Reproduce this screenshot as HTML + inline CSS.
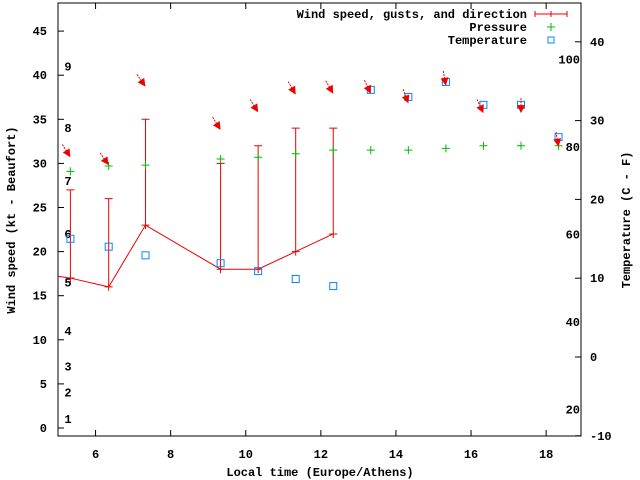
<!DOCTYPE html>
<html><head><meta charset="utf-8"><style>
body{margin:0;background:#fff}
svg{display:block}
text{font-family:"Liberation Mono",monospace;font-weight:bold;font-size:12px;fill:#000}
</style></head><body>
<svg id="chart" width="640" height="480" viewBox="0 0 640 480">
<rect x="58" y="3" width="523" height="433" fill="none" stroke="#000" stroke-width="1"/>
<g id="axes"></g>
<g id="series"></g>
<text x="15" y="220" transform="rotate(-90 15 220)" text-anchor="middle">Wind speed (kt - Beaufort)</text>
<text x="630" y="220" transform="rotate(-90 630 220)" text-anchor="middle">Temperature (C - F)</text>
<text x="320" y="476" text-anchor="middle">Local time (Europe/Athens)</text>
<g>
<text x="527" y="18" text-anchor="end">Wind speed, gusts, and direction</text>
<path d="M535 14H567M535 11V17M567 11V17M551 11V17" stroke="#e00" fill="none"/>
<text x="527" y="31" text-anchor="end">Pressure</text>
<path d="M547 27H555M551 23V31" stroke="#0b0"/>
<text x="527" y="44" text-anchor="end">Temperature</text>
<rect x="548" y="37" width="6" height="6" fill="none" stroke="#08f"/>
</g>
</svg>
<script>
const windTimes=[4.33,5.33,6.35,7.33,9.33,10.33,11.33,12.33];
const windSpeed=[17.6,17,16,23,18,18,20,22];
const gustTimes=[5.33,6.35,7.33,9.33,10.33,11.33,12.33];
const gustLow=[17,16,23,18,18,20,22];
const gustHigh=[27,26,35,30,32,34,34];
const allTimes=[5.33,6.35,7.33,9.33,10.33,11.33,12.33,13.33,14.33,15.33,16.33,17.33,18.33];
const pressure=[29.1,29.7,29.8,30.5,30.7,31.1,31.5,31.5,31.5,31.7,32.0,32.0,32.0];
const temperature=[15.0,14.0,12.9,11.9,10.9,9.9,9.0,33.9,33.0,34.9,32.0,32.0,27.9];
const arrowValue=[30.7,29.8,38.7,33.8,35.8,37.8,37.9,37.9,36.8,38.8,35.7,35.7,31.9];
const arrowBearing=[148,145,145,148,148,150,150,155,160,170,155,180,170];
const xTicks=[6,8,10,12,14,16,18];
const yTicks=[0,5,10,15,20,25,30,35,40,45];
const y2Ticks=[-10,0,10,20,30,40];
const beaufort=[1,2,3,4,5,6,7,8,9];
const beaufortKt=[1.0,4.0,7.0,11.0,16.5,22.0,28.0,34.0,41.0];
const fahrenheit=[20,40,60,80,100];

const X=t=>58+(t-5)*37.55;
const Y=v=>428-v*8.82;
const Y2=c=>357-c*7.88;
const NS='http://www.w3.org/2000/svg';
const ax=document.getElementById('axes'), se=document.getElementById('series');
function mk(tag,attrs,parent){const e=document.createElementNS(NS,tag);for(const k in attrs)e.setAttribute(k,attrs[k]);parent.appendChild(e);return e;}
xTicks.forEach(t=>{
 const l=mk('path',{d:`M${X(t)} 436v-6M${X(t)} 3v6`,stroke:'#000'},ax);
 
 
 const tx=mk('text',{x:X(t),y:458,'text-anchor':'middle'},ax);tx.textContent=t;
 
 
});
yTicks.forEach(v=>{
 const l=mk('path',{d:`M58 ${Y(v)}h6`,stroke:'#000'},ax);
 
 
 const tx=mk('text',{x:47,y:Y(v)+4,'text-anchor':'end'},ax);tx.textContent=v;
 
 
});
y2Ticks.forEach(c=>{
 const l=mk('path',{d:`M581 ${Y2(c)}h-6`,stroke:'#000'},ax);
 
 
 const tx=mk('text',{x:590,y:Y2(c)+4,'text-anchor':'start'},ax);tx.textContent=c;
 
 
});
beaufort.forEach((b,i)=>{
 const tx=mk('text',{x:68,y:Y(beaufortKt[i])+4,'text-anchor':'middle'},ax);tx.textContent=b;
 
 
});
fahrenheit.forEach(f=>{
 const tx=mk('text',{x:580,y:Y2((f-32)*5/9)+4,'text-anchor':'end'},ax);tx.textContent=f;
 
 
});
mk('clipPath',{id:'pc'},se).appendChild(document.createElementNS(NS,'rect'));
const cr=se.querySelector('clipPath rect');cr.setAttribute('x',58);cr.setAttribute('y',3);cr.setAttribute('width',523);cr.setAttribute('height',433);
const line=mk('polyline',{points:windTimes.map((t,i)=>X(t)+','+Y(windSpeed[i])).join(' '),fill:'none',stroke:'#e00','clip-path':'url(#pc)'},se);


gustTimes.forEach((t,i)=>{
 const x=X(t),a=Y(gustLow[i]),b=Y(gustHigh[i]);
 const p=mk('path',{d:`M${x} ${a}V${b}M${x-4} ${b}h8M${x-4} ${a}h8M${x} ${a-4}v8`,stroke:'#e00',fill:'none'},se);
 
 
});
allTimes.forEach((t,i)=>{
 const x=X(t),y=Y(pressure[i]);
 const p=mk('path',{d:`M${x-4} ${y}h8M${x} ${y-4}v8`,stroke:'#0b0'},se);
 
 
});
allTimes.forEach((t,i)=>{
 const x=X(t),y=Y2(temperature[i]);
 const r=mk('rect',{x:x-3.5,y:y-3.5,width:7,height:7,fill:'none',stroke:'#08f'},se);
 
 
});
allTimes.forEach((t,i)=>{
 const x=X(t),y=Y(arrowValue[i]),th=arrowBearing[i]*Math.PI/180;
 const dx=Math.sin(th),dy=-Math.cos(th);
 const tx=x-dx*15,ty=y-dy*15;
 const g=mk('g',{},se);
 
 
 mk('line',{x1:tx,y1:ty,x2:x,y2:y,stroke:'#e00','stroke-dasharray':'2,1'},g);
 const bx=x-dx*8,by=y-dy*8,px=-dy*4,py=dx*4;
 mk('polygon',{points:`${x},${y} ${bx+px},${by+py} ${bx-px},${by-py}`,fill:'#e00'},g);
});
</script>
</body></html>
